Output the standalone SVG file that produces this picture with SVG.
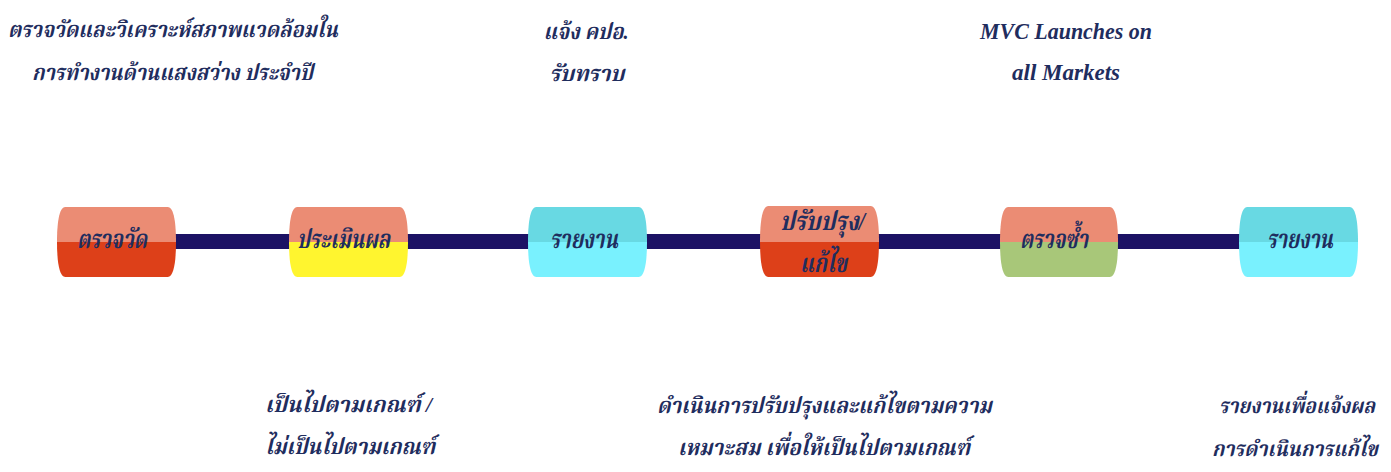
<svg xmlns="http://www.w3.org/2000/svg" width="1391" height="472" viewBox="0 0 1391 472">
<style>
  .t { font-family: "Liberation Serif", "Noto Serif Thai", "Noto Sans Thai", serif; font-weight: bold; font-style: italic; fill: #1f2d5e; text-anchor: middle; }
  .s { font-size: 22px; }
  .r { font-size: 21px; }
  .n { font-size: 26px; }
  .e { font-size: 24px; }
  .salmon { fill: #eb8c74; }
  .red { fill: #dd4019; }
  .yellow { fill: #fff52f; }
  .cyan1 { fill: #68d9e3; }
  .cyan2 { fill: #79f1fe; }
  .green { fill: #a8c779; }
</style>
<defs>
  <clipPath id="barrel" clipPathUnits="objectBoundingBox">
    <path d="M0.07,0 H0.93 C0.985,0 1,0.25 1,0.5 C1,0.75 0.985,1 0.93,1 H0.07 C0.015,1 0,0.75 0,0.5 C0,0.25 0.015,0 0.07,0 Z"/>
  </clipPath>
</defs>
<rect width="1391" height="472" fill="#ffffff"/>
<g id="connectors">
  <rect x="170" y="234" width="1075" height="15" fill="#1c1264"/>
</g>
<g id="node1">
  <g clip-path="url(#barrel)">
    <rect class="salmon" x="57" y="207" width="119" height="35"/>
    <rect class="red" x="57" y="242" width="119" height="35"/>
  </g>
  <text class="t n" x="112" y="248" textLength="70" lengthAdjust="spacingAndGlyphs">ตรวจวัด</text>
</g>
<g id="node2">
  <g clip-path="url(#barrel)">
    <rect class="salmon" x="289" y="207" width="119" height="35"/>
    <rect class="yellow" x="289" y="242" width="119" height="35"/>
  </g>
  <text class="t n" x="343.5" y="248" textLength="93" lengthAdjust="spacingAndGlyphs">ประเมินผล</text>
</g>
<g id="node3">
  <g clip-path="url(#barrel)">
    <rect class="cyan1" x="528" y="207" width="119" height="35"/>
    <rect class="cyan2" x="528" y="242" width="119" height="35"/>
  </g>
  <text class="t n" x="584" y="248" textLength="68" lengthAdjust="spacingAndGlyphs">รายงาน</text>
</g>
<g id="node4">
  <g clip-path="url(#barrel)">
    <rect class="salmon" x="760" y="206" width="119" height="36"/>
    <rect class="red" x="760" y="242" width="119" height="35"/>
  </g>
  <text class="t n" x="822.5" y="230" textLength="85" lengthAdjust="spacingAndGlyphs">ปรับปรุง/</text>
  <text class="t n" x="823.5" y="272" textLength="47" lengthAdjust="spacingAndGlyphs">แก้ไข</text>
</g>
<g id="node5">
  <g clip-path="url(#barrel)">
    <rect class="salmon" x="1000" y="207" width="118" height="35"/>
    <rect class="green" x="1000" y="242" width="118" height="35"/>
  </g>
  <text class="t n" x="1054" y="248" textLength="68" lengthAdjust="spacingAndGlyphs">ตรวจซ้ำ</text>
</g>
<g id="node6">
  <g clip-path="url(#barrel)">
    <rect class="cyan1" x="1239" y="207" width="119" height="35"/>
    <rect class="cyan2" x="1239" y="242" width="119" height="35"/>
  </g>
  <text class="t n" x="1300" y="248" textLength="66" lengthAdjust="spacingAndGlyphs">รายงาน</text>
</g>
<g id="label-top1">
  <text class="t s" x="173" y="37" textLength="330" lengthAdjust="spacingAndGlyphs">ตรวจวัดและวิเคราะห์สภาพแวดล้อมใน</text>
  <text class="t s" x="172.5" y="80" textLength="281" lengthAdjust="spacingAndGlyphs">การทำงานด้านแสงสว่าง ประจำปี</text>
</g>
<g id="label-top2">
  <text class="t s" x="586" y="39" textLength="85" lengthAdjust="spacingAndGlyphs">แจ้ง คปอ.</text>
  <text class="t s" x="587" y="81" textLength="75" lengthAdjust="spacingAndGlyphs">รับทราบ</text>
</g>
<g id="label-top3">
  <text class="t e" x="1066" y="39" textLength="172" lengthAdjust="spacingAndGlyphs">MVC Launches on</text>
  <text class="t e" x="1066" y="80" textLength="108" lengthAdjust="spacingAndGlyphs">all Markets</text>
</g>
<g id="label-bottom2">
  <text class="t s" x="348.5" y="412" textLength="167" lengthAdjust="spacingAndGlyphs">เป็นไปตามเกณฑ์ /</text>
  <text class="t s" x="350" y="454" textLength="170" lengthAdjust="spacingAndGlyphs">ไม่เป็นไปตามเกณฑ์</text>
</g>
<g id="label-bottom4">
  <text class="t s" x="824.5" y="413" textLength="335" lengthAdjust="spacingAndGlyphs">ดำเนินการปรับปรุงและแก้ไขตามความ</text>
  <text class="t s" x="824" y="455" textLength="292" lengthAdjust="spacingAndGlyphs">เหมาะสม เพื่อให้เป็นไปตามเกณฑ์</text>
</g>
<g id="label-bottom6">
  <text class="t r" x="1297" y="413" textLength="156" lengthAdjust="spacingAndGlyphs">รายงานเพื่อแจ้งผล</text>
  <text class="t r" x="1295" y="456" textLength="166" lengthAdjust="spacingAndGlyphs">การดำเนินการแก้ไข</text>
</g>
</svg>
